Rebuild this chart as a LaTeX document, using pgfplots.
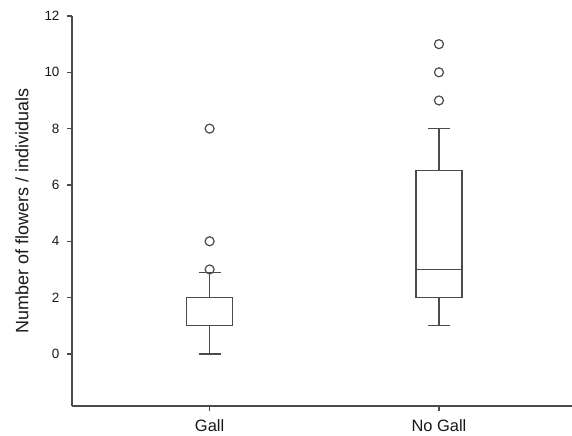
\documentclass[border=0pt]{standalone}
\usepackage{pgfplots}
\pgfplotsset{compat=1.18}
\usepgfplotslibrary{statistics}
\usepackage{fontspec}
\setmainfont{Liberation Sans}
\definecolor{linegray}{RGB}{75,75,75}
\definecolor{textgray}{RGB}{25,25,25}
\begin{document}
\begin{tikzpicture}
\begin{axis}[
  scale only axis,
  width=500bp, height=390bp,
  xmin=0.4, xmax=2.58,
  ymin=-1.85, ymax=12,
  axis lines*=left,
  axis line style={linegray, line width=1.2bp},
  tick style={linegray, line width=1.2bp},
  tick align=outside,
  major tick length=5bp,
  xtick={1,2}, xticklabels={Gall, No Gall},
  ytick={0,2,4,6,8,10,12},
  /pgf/number format/assume math mode=true,
  yticklabel style={font=\fontsize{13.5}{15}\selectfont, text=textgray, xshift=-4bp},
  xticklabel style={font=\fontsize{16.5}{18}\selectfont, text=textgray, yshift=-5bp},
  ylabel={Number of flowers / individuals},
  ylabel style={font=\fontsize{18}{20}\selectfont, at={(axis description cs:-0.1,0.5)}, anchor=center, text=textgray},
  clip=false,
  boxplot/draw direction=y,
]
\addplot+[boxplot prepared={draw position=1, lower whisker=0, lower quartile=1, median=1, upper quartile=2, upper whisker=2.9, box extend=0.2, whisker extend=0.096},
  draw=linegray, line width=1.2bp, solid, mark=o, mark size=4.5bp, mark options={draw=linegray, fill=none, line width=1.2bp}]
  table[row sep=\\, y index=0]{3\\4\\8\\};
\addplot+[boxplot prepared={draw position=2, lower whisker=1, lower quartile=2, median=3, upper quartile=6.5, upper whisker=8, box extend=0.2, whisker extend=0.096},
  draw=linegray, line width=1.2bp, solid, mark=o, mark size=4.5bp, mark options={draw=linegray, fill=none, line width=1.2bp}]
  table[row sep=\\, y index=0]{9\\10\\11\\};
\end{axis}
\pgfresetboundingbox
\path ([xshift=-72bp, yshift=16bp]current axis.north west) rectangle ([yshift=-30bp]current axis.south east);
\end{tikzpicture}
\end{document}
